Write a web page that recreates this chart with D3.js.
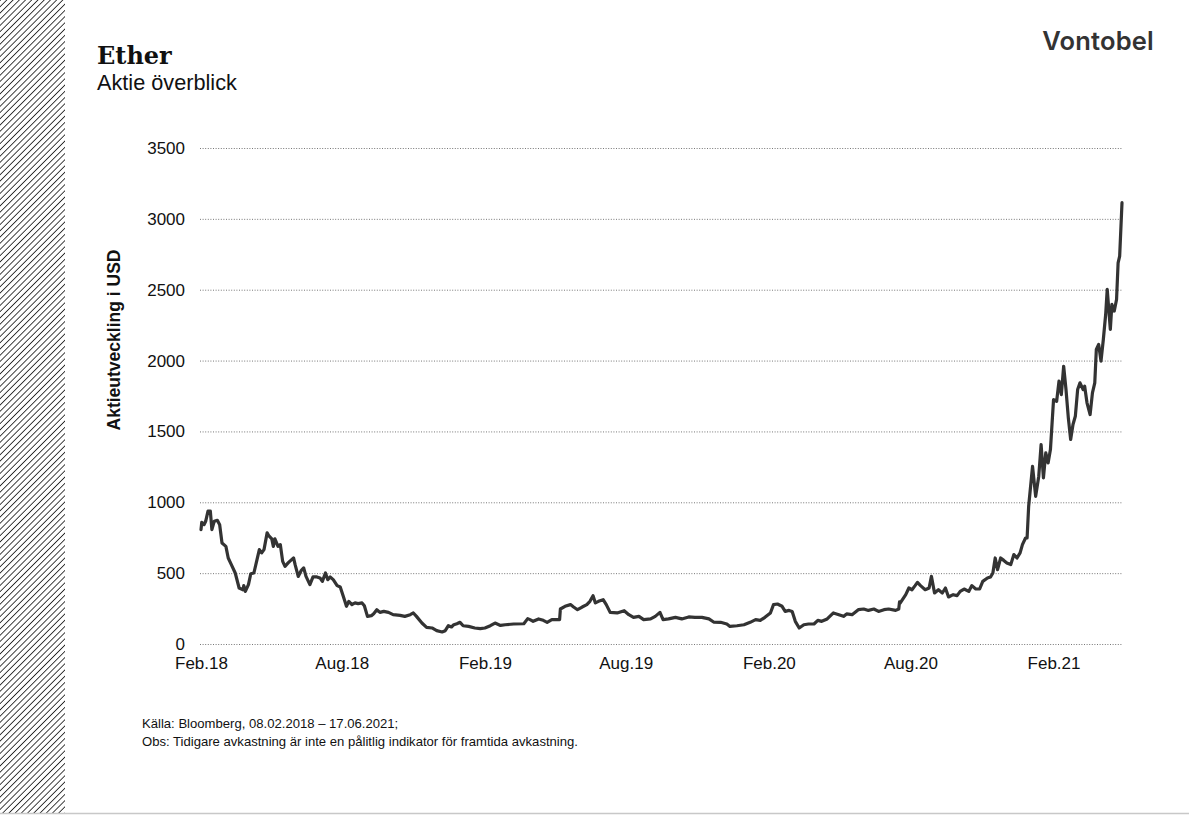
<!DOCTYPE html>
<html>
<head>
<meta charset="utf-8">
<script src="https://cdn.jsdelivr.net/npm/d3@7"></script>
<style>
  html, body { margin: 0; padding: 0; background: #fff; }
  svg { display: block; }
</style>
</head>
<body>
<svg id="chart" width="1189" height="815"></svg>
<script>
// ---- data ----
const title = "Ether";
const subtitle = "Aktie överblick";
const yTitle = "Aktieutveckling i USD";
const brand = "Vontobel";
const footnotes = [
  "Källa: Bloomberg, 08.02.2018 – 17.06.2021;",
  "Obs: Tidigare avkastning är inte en pålitlig indikator för framtida avkastning."
];
const startDate = "2018-02-08";
const endDate = "2021-05-07";
const yTicks = [0, 500, 1000, 1500, 2000, 2500, 3000, 3500];
const xTickDates = ["2018-02-08","2018-08-08","2019-02-08","2019-08-08","2020-02-08","2020-08-08","2021-02-08"];
const xTickLabels = ["Feb.18","Aug.18","Feb.19","Aug.19","Feb.20","Aug.20","Feb.21"];
// days since 08.02.2018
const days = [0,1,4,6,9,12,14,17,21,24,27,32,35,39,44,49,54,55,57,61,64,68,72,75,78,81,85,87,91,93,95,99,102,105,108,112,114,119,121,125,129,132,135,140,144,149,153,156,160,163,166,170,175,179,183,187,190,194,198,202,207,210,214,219,222,226,230,235,241,247,256,262,269,273,277,284,290,297,303,310,314,318,322,325,329,333,337,344,352,359,
  365,372,378,385,391,402,415,420,423,427,434,440,445,451,461,462,468,475,479,484,490,496,500,504,507,511,517,521,526,535,544,550,556,563,569,578,584,590,594,601,610,618,627,635,644,653,659,668,676,680,689,698,706,713,719,725,732,736,741,747,751,756,760,764,769,775,781,788,793,798,805,813,820,826,830,837,845,852,858,865,871,878,884,893,897,898,
  899,906,910,914,918,921,925,931,936,939,943,948,953,957,961,967,972,976,981,987,991,996,1001,1005,1011,1015,1018,1021,1024,1028,1032,1036,1041,1045,1049,1053,1056,1060,1062,1064,1069,1073,1077,1080,1083,1086,1089,1092,1096,1100,1103,1106,1109,1112,1115,1118,1121,1124,1127,1130,1134,1136,1139,1143,1146,1149,1151,1154,1157,1160,1163,1165,1169,1171,1174,1177,1179,1181,1184];
const prices = [807,859,842,866,937,937,807,866,873,842,713,689,607,560,501,395,383,412,371,419,496,501,595,666,643,666,784,765,742,689,742,689,701,583,548,572,583,607,560,477,520,537,477,419,473,473,466,442,501,454,473,454,412,402,336,266,301,278,290,285,290,270,195,200,214,242,223,230,223,207,202,195,207,219,195,148,117,113,94,85,94,129,120,136,143,153,129,124,113,108,
  113,129,148,131,136,141,143,179,172,160,177,167,153,172,172,247,266,278,261,242,261,278,301,341,290,301,313,278,223,219,235,207,188,195,172,177,195,223,172,177,188,177,191,188,188,177,155,153,141,124,129,136,153,172,167,188,219,278,282,266,230,237,230,160,113,136,141,141,167,160,177,219,207,195,212,207,242,247,237,247,230,242,247,237,247,297,
  290,348,395,383,412,435,412,383,395,477,360,383,360,395,332,348,341,371,388,371,412,388,388,442,466,473,501,607,525,607,590,572,560,631,607,643,701,748,748,972,1254,1042,1184,1407,1172,1349,1278,1372,1725,1713,1855,1760,1960,1796,1596,1443,1549,1607,1796,1843,1796,1819,1702,1619,1772,1843,2078,2114,1996,2149,2325,2502,2220,2396,2349,2431,2690,2737,3114];

// ---- layout ----
const W = 1189, H = 815;
const plot = { left: 201, right: 1122, top: 148, bottom: 644 };
const svg = d3.select("#chart");
const parse = d3.utcParse("%Y-%m-%d");
const t0 = parse(startDate);

const series = days.map((d, i) => ({ date: d3.utcDay.offset(t0, d), value: prices[i] }));

const x = d3.scaleUtc().domain([t0, parse(endDate)]).range([plot.left, plot.right]);
const y = d3.scaleLinear().domain([0, 3500]).range([plot.bottom, plot.top]);

// hatch strip
const defs = svg.append("defs");
const pat = defs.append("pattern")
  .attr("id", "hatch").attr("patternUnits", "userSpaceOnUse")
  .attr("width", 4.4).attr("height", 4.4)
  .attr("patternTransform", "rotate(45)");
pat.append("line").attr("x1", 0).attr("y1", 0).attr("x2", 0).attr("y2", 4.4)
  .attr("stroke", "#111").attr("stroke-width", 1.6);
svg.append("rect").attr("x", 0).attr("y", 0).attr("width", 65).attr("height", 813)
  .attr("fill", "url(#hatch)");

// bottom rule
svg.append("line").attr("x1", 0).attr("x2", W).attr("y1", 813.5).attr("y2", 813.5)
  .attr("stroke", "#c8c8c8").attr("stroke-width", 1.5);

// titles
svg.append("text").attr("x", 97).attr("y", 64).text(title)
  .attr("font-family", "'DejaVu Serif', serif").attr("font-weight", "bold")
  .attr("font-size", 24).attr("fill", "#111");
svg.append("text").attr("x", 97).attr("y", 90).text(subtitle)
  .attr("font-family", "'Liberation Sans', Arial, sans-serif")
  .attr("font-size", 21.7).attr("fill", "#111");
svg.append("text").attr("x", 1154).attr("y", 50).text(brand)
  .attr("text-anchor", "end")
  .attr("font-family", "Inter, sans-serif").attr("font-weight", 600)
  .attr("font-size", 25.5).attr("letter-spacing", 0.2).attr("fill", "#333");

// y grid + labels
const yAxis = svg.append("g").attr("transform", `translate(${plot.left - 1},0)`)
  .call(d3.axisLeft(y).tickValues(yTicks).tickSize(-(plot.right - plot.left + 1)).tickPadding(15).tickFormat(d3.format("d")));
yAxis.select(".domain").remove();
yAxis.selectAll(".tick line").attr("stroke", "#777").attr("stroke-width", 1).attr("stroke-dasharray", "1 1.6");
yAxis.selectAll(".tick text").attr("font-family", "'Liberation Sans', Arial, sans-serif")
  .attr("font-size", 17).attr("fill", "#111");

// x labels
const xAxis = svg.append("g").attr("transform", `translate(0,${plot.bottom})`)
  .call(d3.axisBottom(x).tickValues(xTickDates.map(parse)).tickSize(0).tickPadding(13)
    .tickFormat((d, i) => xTickLabels[i]));
xAxis.select(".domain").remove();
xAxis.selectAll(".tick text").attr("font-family", "'Liberation Sans', Arial, sans-serif")
  .attr("font-size", 17).attr("fill", "#111");

// y title
svg.append("text")
  .attr("transform", `translate(120,340) rotate(-90)`)
  .attr("text-anchor", "middle").text(yTitle)
  .attr("font-family", "'Liberation Sans', Arial, sans-serif").attr("font-weight", "bold")
  .attr("font-size", 17.5).attr("fill", "#111");

// line
const line = d3.line().x(d => x(d.date)).y(d => y(d.value));
svg.append("path").datum(series).attr("d", line)
  .attr("fill", "none").attr("stroke", "#333").attr("stroke-width", 3.2)
  .attr("stroke-linejoin", "round").attr("stroke-linecap", "round");

// footnotes
svg.append("g").selectAll("text").data(footnotes).join("text")
  .attr("x", 142).attr("y", (d, i) => 728 + i * 18).text(d => d)
  .attr("font-family", "'Liberation Sans', Arial, sans-serif")
  .attr("font-size", 13.1).attr("fill", "#111");
</script>
</body>
</html>
